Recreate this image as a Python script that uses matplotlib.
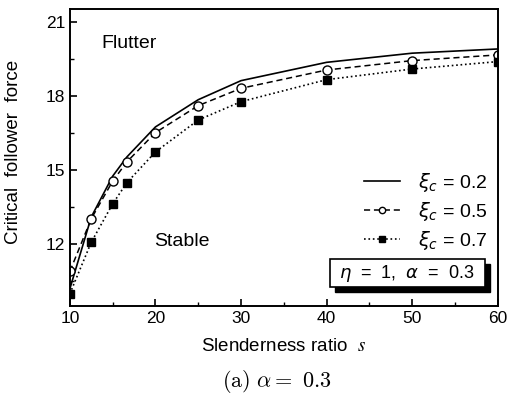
import matplotlib
matplotlib.use('Agg')
import matplotlib.pyplot as plt
from matplotlib.patches import Rectangle
from matplotlib.ticker import MultipleLocator

plt.rcParams['font.family'] = ['Liberation Sans', 'DejaVu Sans']

# slenderness ratio s and critical follower force for each xi_c
s = [10, 12.5, 15, 16.67, 20, 25, 30, 40, 50, 60]
xi02 = [10.2, 13.1, 14.75, 15.53, 16.74, 17.84, 18.61, 19.35, 19.72, 19.89]
xi05 = [10.9, 13.03, 14.55, 15.33, 16.51, 17.6, 18.3, 19.04, 19.42, 19.65]
xi07 = [10.0, 12.08, 13.63, 14.49, 15.73, 17.02, 17.76, 18.65, 19.08, 19.38]
labels = [r'$\xi_c$ = 0.2', r'$\xi_c$ = 0.5', r'$\xi_c$ = 0.7']

fig = plt.figure(figsize=(5.1, 3.97), dpi=100)
ax = fig.add_axes([0.137, 0.229, 0.839, 0.748])

ax.plot(s, xi02, '-', color='black', lw=1.2, label=labels[0])
ax.plot(s, xi05, '--', color='black', lw=1.1, marker='o', ms=6.5,
        mfc='white', mec='black', mew=1.0, dashes=(4, 2.5), label=labels[1])
ax.plot(s, xi07, ':', color='black', lw=1.2, marker='s', ms=5.5,
        mfc='black', mec='black', label=labels[2])

ax.set_xlim(10, 60)
ax.set_ylim(9.5, 21.5)
ax.xaxis.set_major_locator(MultipleLocator(10))
ax.xaxis.set_minor_locator(MultipleLocator(5))
ax.yaxis.set_major_locator(MultipleLocator(3))
ax.yaxis.set_minor_locator(MultipleLocator(1.5))
ax.tick_params(which='both', direction='in', labelsize=12.5)
ax.tick_params(which='major', length=5, width=1.2)
ax.tick_params(which='minor', length=3, width=1.0)
for sp in ax.spines.values():
    sp.set_linewidth(1.4)

ax.set_ylabel('Critical  follower  force', fontsize=13.5)
ax.yaxis.set_label_coords(-0.112, 0.52)
ax.set_xlabel(r'Slenderness ratio  $s$', fontsize=13.5, labelpad=9)
ax.xaxis.label.set_math_fontfamily('stix')

ax.text(13.7, 20.1, 'Flutter', fontsize=14, va='center', ha='left')
ax.text(19.8, 12.12, 'Stable', fontsize=14, va='center', ha='left')

leg = ax.legend(loc='upper right', bbox_to_anchor=(0.975, 0.455), frameon=False,
                fontsize=14, handlelength=1.85, handletextpad=0.9,
                labelspacing=0.3, markerscale=0.7, borderaxespad=0, borderpad=0)

# parameter box with shadow
ax.add_patch(Rectangle((0.619, 0.048), 0.363, 0.093, transform=ax.transAxes,
                       facecolor='black', edgecolor='black', zorder=5, clip_on=False))
ax.add_patch(Rectangle((0.607, 0.064), 0.363, 0.093, transform=ax.transAxes,
                       facecolor='white', edgecolor='black', lw=1.2, zorder=6, clip_on=False))
ax.text(0.788, 0.11, r'$\eta$  =  1,  $\alpha$  =  0.3', transform=ax.transAxes,
        fontsize=13, ha='center', va='center', zorder=7)

fig.text(0.543, 0.038, r'$\mathrm{(a)}\ \alpha =\ 0.3$', fontsize=16,
         ha='center', va='center', math_fontfamily='cm')

fig.savefig('out.png', dpi=100)
